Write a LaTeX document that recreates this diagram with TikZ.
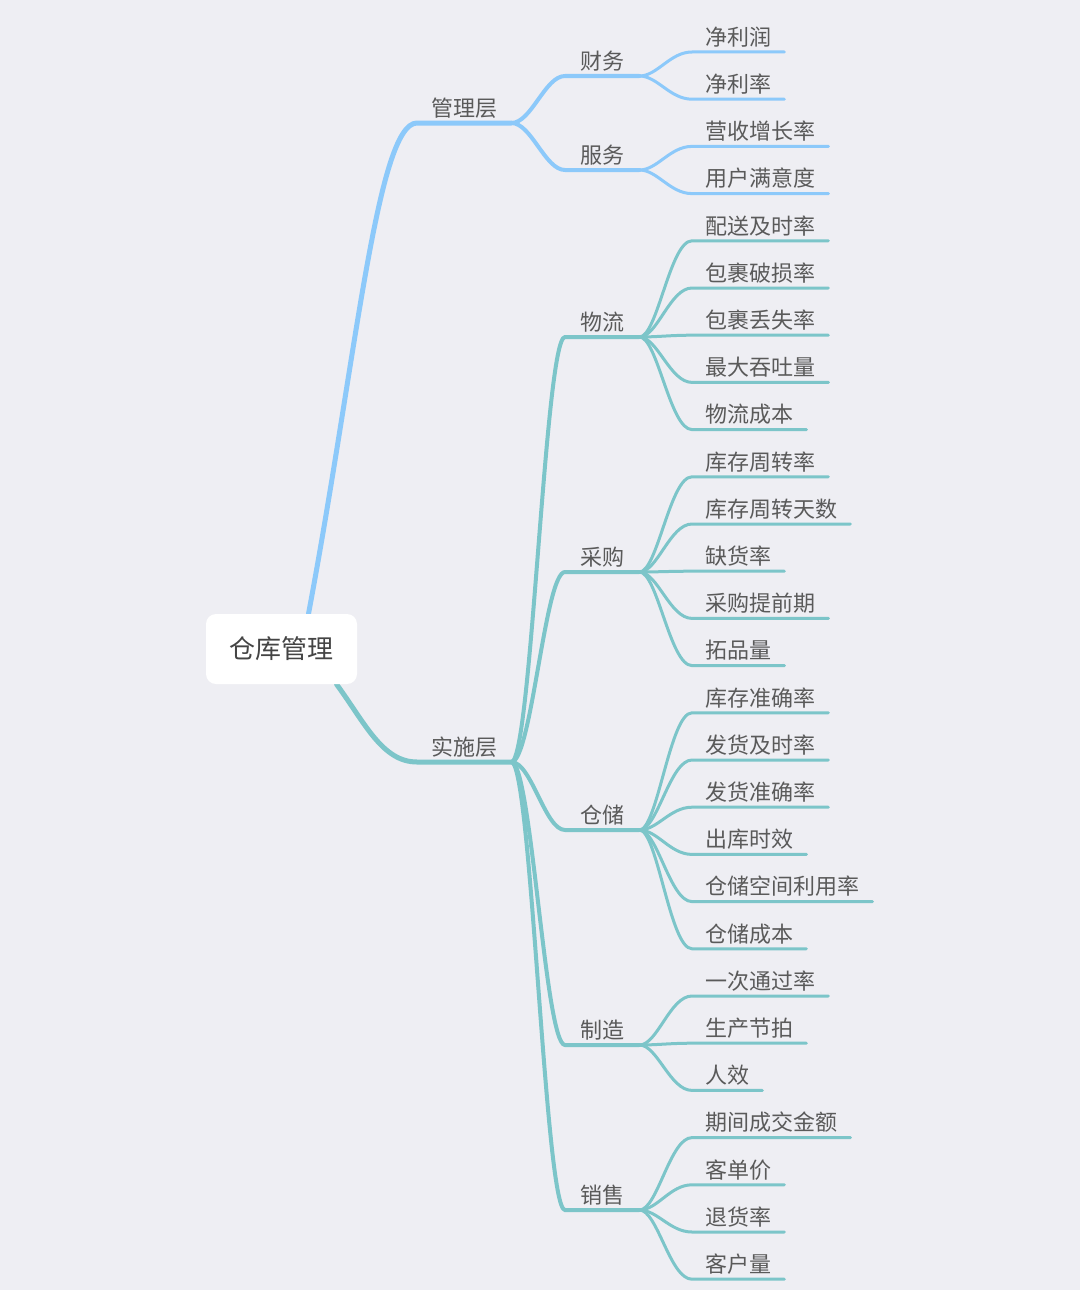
\documentclass[tikz,border=0pt]{standalone}
\usepackage{fontspec}
\newfontfamily\cjk{Noto Sans CJK SC}
\definecolor{bgcol}{HTML}{EEEEF3}
\definecolor{mgmtblue}{HTML}{8CC9FA}
\definecolor{opteal}{HTML}{7CC5C9}
\definecolor{txtgray}{HTML}{5A5A5A}
\definecolor{txtdark}{HTML}{444444}
\pgfdeclarelayer{bglayer}
\pgfdeclarelayer{linelayer}
\pgfsetlayers{bglayer,linelayer,main}

\begin{document}
\begin{tikzpicture}[
  x=1pt, y=-1pt,
  rootbox/.style={rectangle, rounded corners=10pt, fill=white,
                  minimum width=151pt, minimum height=70pt, text=txtdark,
                  font=\cjk\fontsize{26}{30}\selectfont},
  topic/.style={anchor=south west, inner xsep=15pt, inner ysep=6.5pt,
                text height=17pt, text depth=0pt, text=txtgray,
                font=\cjk\fontsize{22}{26}\selectfont},
  layer/.style={topic, inner xsep=14pt},
  leaf/.style={topic, inner xsep=13pt},
  trunk/.style={line width=5pt, line cap=round},
  branch/.style={line width=4pt, line cap=round},
  twig/.style={line width=3pt, line cap=round}
]
\begin{pgfonlayer}{bglayer}
\fill[bgcol] (0,0) rectangle (1080,1290);
\end{pgfonlayer}
\useasboundingbox (0,0) rectangle (1080,1290);

\node[rootbox] (root) at (281.5,649) {仓库管理};

\node[layer] (mgmt) at (417,123) {管理层};
\node[layer] (ops)  at (417,762) {实施层};

\node[topic] (fin) at (565,76)   {财务};
\node[topic] (svc) at (565,170)  {服务};
\node[topic] (log) at (565,337)  {物流};
\node[topic] (pur) at (565,572)  {采购};
\node[topic] (wh)  at (565,830)  {仓储};
\node[topic] (mfg) at (565,1045) {制造};
\node[topic] (sal) at (565,1210) {销售};

\node[leaf] (fin1) at (692,52)     {净利润};
\node[leaf] (fin2) at (692,99.2)   {净利率};
\node[leaf] (svc1) at (692,146.4)  {营收增长率};
\node[leaf] (svc2) at (692,193.6)  {用户满意度};
\node[leaf] (log1) at (692,240.8)  {配送及时率};
\node[leaf] (log2) at (692,288)    {包裹破损率};
\node[leaf] (log3) at (692,335.2)  {包裹丢失率};
\node[leaf] (log4) at (692,382.4)  {最大吞吐量};
\node[leaf] (log5) at (692,429.6)  {物流成本};
\node[leaf] (pur1) at (692,476.8)  {库存周转率};
\node[leaf] (pur2) at (692,524)    {库存周转天数};
\node[leaf] (pur3) at (692,571.2)  {缺货率};
\node[leaf] (pur4) at (692,618.4)  {采购提前期};
\node[leaf] (pur5) at (692,665.6)  {拓品量};
\node[leaf] (wh1)  at (692,712.8)  {库存准确率};
\node[leaf] (wh2)  at (692,760)    {发货及时率};
\node[leaf] (wh3)  at (692,807.2)  {发货准确率};
\node[leaf] (wh4)  at (692,854.4)  {出库时效};
\node[leaf] (wh5)  at (692,901.6)  {仓储空间利用率};
\node[leaf] (wh6)  at (692,948.8)  {仓储成本};
\node[leaf] (mfg1) at (692,996)    {一次通过率};
\node[leaf] (mfg2) at (692,1043.2) {生产节拍};
\node[leaf] (mfg3) at (692,1090.4) {人效};
\node[leaf] (sal1) at (692,1137.6) {期间成交金额};
\node[leaf] (sal2) at (692,1184.8) {客单价};
\node[leaf] (sal3) at (692,1232)   {退货率};
\node[leaf] (sal4) at (692,1279.2) {客户量};

\begin{pgfonlayer}{linelayer}
\draw[trunk, mgmtblue] ([xshift=27pt]root.north)
  .. controls +(47,-250) and +(-40,0) .. (mgmt.south west) -- (mgmt.south east);
\draw[trunk, opteal] ([xshift=55pt]root.south)
  .. controls +(28,38) and +(-35,0) .. (ops.south west) -- (ops.south east);
\foreach \a/\b in {mgmt/fin, mgmt/svc}
  \draw[branch, mgmtblue] (\a.south east) .. controls +(20,0) and +(-20,0)
    .. (\b.south west) -- (\b.south east);
\foreach \a/\b in {ops/log, ops/pur, ops/wh, ops/mfg, ops/sal}
  \draw[branch, opteal] (\a.south east) .. controls +(20,0) and +(-20,0)
    .. (\b.south west) -- (\b.south east);
\foreach \a/\b in {fin/fin1, fin/fin2, svc/svc1, svc/svc2}
  \draw[twig, mgmtblue] (\a.south east) .. controls +(18,0) and +(-22,0)
    .. (\b.south west) -- (\b.south east);
\foreach \a/\b in {log/log1, log/log2, log/log3, log/log4, log/log5,
                   pur/pur1, pur/pur2, pur/pur3, pur/pur4, pur/pur5,
                   wh/wh1, wh/wh2, wh/wh3, wh/wh4, wh/wh5, wh/wh6,
                   mfg/mfg1, mfg/mfg2, mfg/mfg3,
                   sal/sal1, sal/sal2, sal/sal3, sal/sal4}
  \draw[twig, opteal] (\a.south east) .. controls +(18,0) and +(-22,0)
    .. (\b.south west) -- (\b.south east);
\end{pgfonlayer}
\end{tikzpicture}
\end{document}
